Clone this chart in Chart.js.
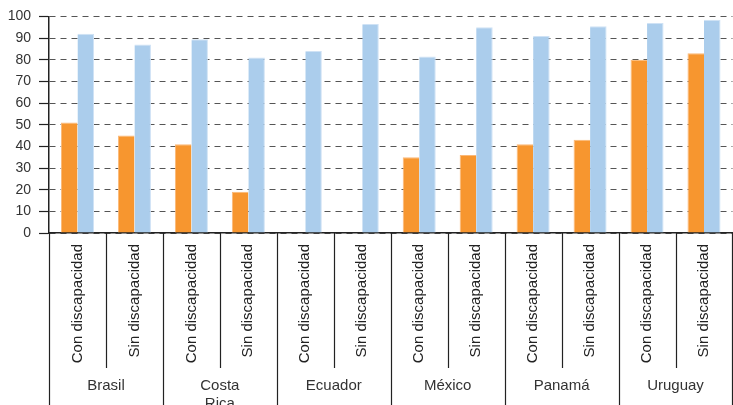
<!DOCTYPE html>
<html>
<head>
<meta charset="utf-8">
<script src="https://cdn.jsdelivr.net/npm/chart.js@4.4.1/dist/chart.umd.min.js"></script>
<style>
  html, body { margin: 0; padding: 0; background: #fff; }
  #wrap { width: 733px; height: 405px; }
</style>
</head>
<body>
<div id="wrap"><canvas id="chart" width="733" height="405"></canvas></div>
<script>
// Countries and the two groups shown for each one
const countries = ["Brasil", ["Costa", "Rica"], "Ecuador", "México", "Panamá", "Uruguay"];
const groups = ["Con discapacidad", "Sin discapacidad"];

// Values, one per bar (Con, Sin for each country)
const orangeValues = [51, 45, 41, 19, null, null, 35, 36, 41, 43, 80, 83];
const blueValues = [92, 87, 89.5, 81, 84, 96.5, 81.5, 95, 91, 95.5, 97, 98.5];

const yTicks = [0, 10, 20, 30, 40, 50, 60, 70, 80, 90, 100];

const labels = [];
countries.forEach(() => groups.forEach((g) => labels.push(g)));

const FONT = "'Liberation Sans', Arial, sans-serif";

// Draws the two-level category separators and country names
const groupAxisPlugin = {
  id: "groupAxis",
  afterDraw(chart) {
    const { ctx, chartArea } = chart;
    const x = chart.scales.x;
    const step = x.width / labels.length;
    const top = chartArea.bottom;
    ctx.save();
    ctx.strokeStyle = "#222";
    ctx.lineWidth = 1.2;
    for (let i = 0; i <= labels.length; i++) {
      const px = Math.round(x.left + i * step) + 0.5;
      const end = i % 2 === 0 ? chart.height : top + 135;
      ctx.beginPath();
      ctx.moveTo(px, top);
      ctx.lineTo(px, end);
      ctx.stroke();
    }
    ctx.fillStyle = "#333";
    ctx.font = "15px " + FONT;
    ctx.textAlign = "center";
    ctx.textBaseline = "alphabetic";
    countries.forEach((name, c) => {
      const cx = x.left + (c * 2 + 1) * step;
      const lines = Array.isArray(name) ? name : [name];
      lines.forEach((line, k) => {
        ctx.fillText(line, cx, top + 157 + k * 18);
      });
    });
    ctx.restore();
  },
};

new Chart(document.getElementById("chart"), {
  type: "bar",
  data: {
    labels: labels,
    datasets: [
      {
        label: "Serie 1",
        data: orangeValues,
        backgroundColor: "#F7962F",
        borderColor: "#FBB877",
        borderWidth: { top: 1, left: 1, right: 0, bottom: 0 },
      },
      {
        label: "Serie 2",
        data: blueValues,
        backgroundColor: "#ABCDEC",
        borderColor: "#CFE2F5",
        borderWidth: { top: 1, left: 0, right: 1, bottom: 0 },
      },
    ],
  },
  options: {
    responsive: false,
    animation: false,
    devicePixelRatio: 1,
    layout: { padding: { top: 16, right: 0, left: 0, bottom: 0 } },
    plugins: {
      legend: { display: false },
      tooltip: { enabled: false },
    },
    datasets: {
      bar: { categoryPercentage: 0.58, barPercentage: 1 },
    },
    scales: {
      x: {
        grid: { display: false, drawTicks: false },
        border: { display: true, color: "#222", width: 1.5 },
        ticks: {
          minRotation: 90,
          maxRotation: 90,
          autoSkip: false,
          padding: 11,
          color: "#222",
          font: { family: FONT, size: 15 },
        },
        afterFit(scale) {
          scale.height = 172;
        },
      },
      y: {
        min: 0,
        max: 100,
        afterBuildTicks(scale) {
          scale.ticks = yTicks.map((v) => ({ value: v }));
        },
        grid: {
          color: "#555",
          lineWidth: 1,
          tickLength: 10,
          tickColor: "#222",
          tickWidth: 1.2,
          tickBorderDash: [],
        },
        border: { display: true, color: "#222", width: 1.5, dash: [6, 5] },
        ticks: {
          padding: 8,
          color: "#333",
          font: { family: FONT, size: 14 },
        },
        afterFit(scale) {
          scale.width = 49;
        },
      },
    },
  },
  plugins: [groupAxisPlugin],
});
</script>
</body>
</html>
